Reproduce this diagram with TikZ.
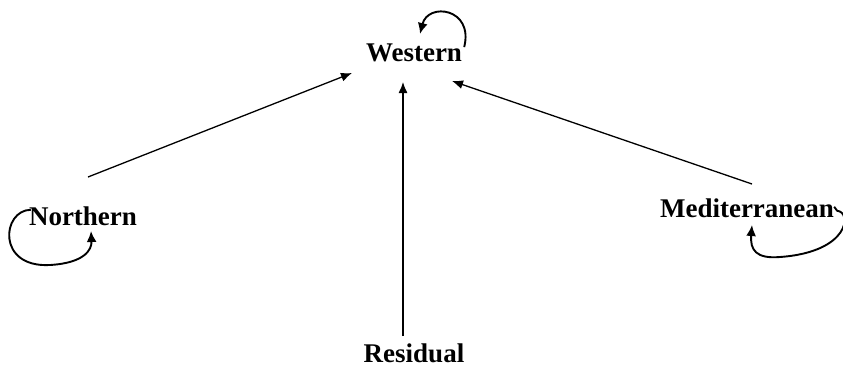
\documentclass[tikz,border=0pt]{standalone}
\usepackage{fontspec}
\setmainfont{Liberation Serif}
\usetikzlibrary{arrows.meta,positioning}

\begin{document}
\begin{tikzpicture}
  [x=1pt, y=-1pt,
   every node/.style={shape=rectangle, align=center, inner sep=0pt,
     font=\fontsize{27}{32}\selectfont\bfseries},
   link/.style={-{Latex[length=11pt,width=9pt]}, line width=1.3pt},
   loop/.style={-{Latex[length=11pt,width=10pt]}, line width=1.9pt}]
  \useasboundingbox (0,0) rectangle (843,378);
  \node[anchor=base] (western) at (414,61) {Western};
  \node[anchor=base] (northern) at (83,225) {Northern};
  \node[anchor=base] (mediterranean) at (747,217) {Mediterranean};
  \node[anchor=base] (residual) at (414,362) {Residual};
  % free ends of the edges
  \coordinate (n1) at (88,177);
  \coordinate (r1) at (403,336);
  \coordinate (m1) at (752,184);
  \coordinate (wn) at (352,73);
  \coordinate (wr) at (403,82);
  \coordinate (wm) at (452,81);
  % edges into Western
  \draw[link] (n1) -- (wn);
  \draw[link] (r1) -- (wr);
  \draw[link] (m1) -- (wm);
  % self loops
  \draw[loop] (western.north east) ++(2,4) .. controls (474,8) and (428,2) .. (420,34);
  \draw[loop] (northern.west) ++(2,-6) .. controls (2,210) and (-4,268) .. (50,265)
    .. controls (84,263) and (92,250) .. (91,231);
  \draw[loop] (mediterranean.east) ++(0,-1) -- ++(3,4) .. controls (852,212) and (850,252) .. (780,257)
    .. controls (756,259) and (750,250) .. (752,225);
\end{tikzpicture}
\end{document}
